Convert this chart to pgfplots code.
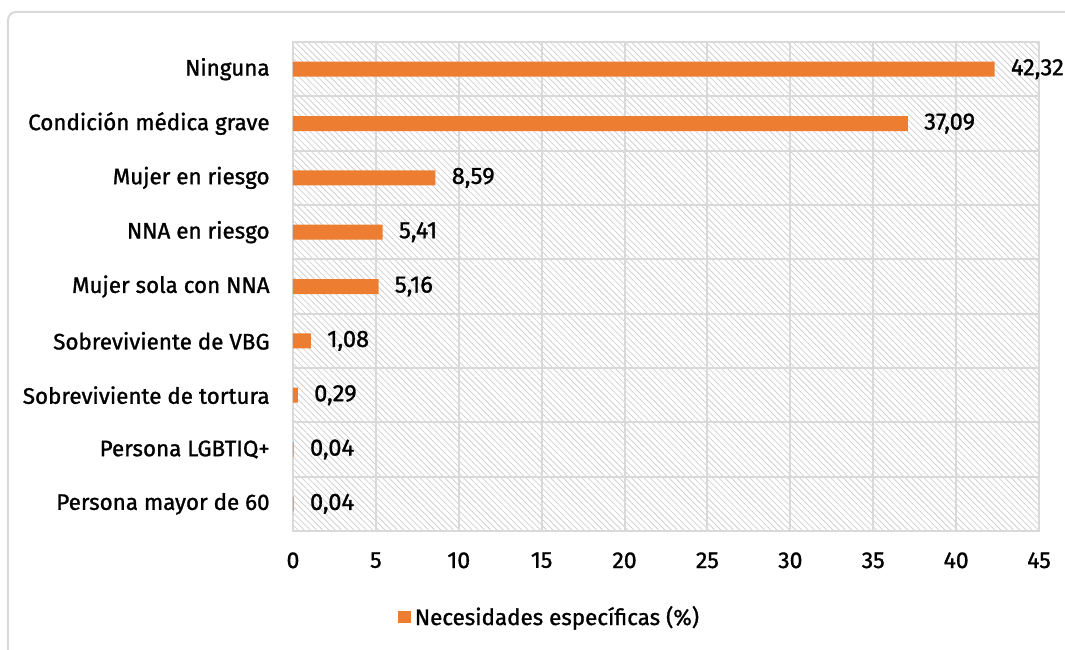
\documentclass[border=0pt]{standalone}
\usepackage{fontspec}
\setmainfont{Fira Sans}[FakeBold=1.2]
\usepackage{pgfplots}
\pgfplotsset{compat=1.18}
\usetikzlibrary{patterns.meta}
\definecolor{barorange}{HTML}{ED7D31}
\definecolor{gridgray}{HTML}{D9D9D9}

\begin{document}
\begin{tikzpicture}
\useasboundingbox (-146.5pt,-59pt) rectangle (386pt,265.5pt);
\begin{scope}
\clip (-146.5pt,-59pt) rectangle (386pt,265.5pt);
\draw[gridgray, line width=1pt, rounded corners=4pt] (-142.5pt,-90pt) rectangle (420pt,259.5pt);
\end{scope}
\begin{axis}[
    at={(0,0)}, anchor=south west,
    scale only axis,
    width=373pt, height=244.5pt,
    xbar,
    bar width=7.5pt,
    xmin=0, xmax=45,
    xtick={0,5,...,45},
    ymin=-0.5, ymax=8.5,
    y dir=reverse,
    ytick={0,...,8},
    yticklabels={Ninguna, Condición médica grave, Mujer en riesgo, NNA en riesgo, Mujer sola con NNA, Sobreviviente de VBG, Sobreviviente de tortura, Persona LGBTIQ+, Persona mayor de 60},
    minor ytick={-0.5,0.5,...,8.5},
    xmajorgrids=true, yminorgrids=true,
    grid style={gridgray, line width=1pt},
    axis line style={gridgray, line width=1pt},
    major tick length=0pt,
    minor tick length=3pt,
    tick align=outside,
    minor tick style={gridgray, line width=1pt},
    xtick style={draw=none},
    ytick style={draw=none},
    yticklabel style={inner sep=0pt, xshift=-11.5pt, font=\fontsize{11.2}{13}\selectfont},
    xticklabel style={inner sep=0pt, yshift=-10.5pt, font=\fontsize{11.5}{13}\selectfont},
    /pgf/number format/assume math mode=true,
    axis background/.style={pattern={Lines[angle=-45, distance=2.2pt, line width=0.4pt]}, pattern color=black!18},
    nodes near coords={\pgfmathprintnumber[use comma, fixed, fixed zerofill, precision=2]{\pgfplotspointmeta}},
    nodes near coords style={anchor=west, inner sep=0pt, xshift=8pt, font=\fontsize{11.8}{13}\selectfont},
    legend style={draw=none, fill=none, at={(0.14,-0.176)}, anchor=west, font=\fontsize{11.2}{13}\selectfont, inner sep=0pt},
    legend image code/.code={\fill[barorange] (0pt,-3pt) rectangle (6.5pt,3pt);},
]
\addplot[fill=barorange, draw=none] coordinates {
(42.32,0) (37.09,1) (8.59,2) (5.41,3) (5.16,4) (1.08,5) (0.29,6) (0.04,7) (0.04,8)};
\addlegendentry{Necesidades específicas (\%)}
\end{axis}
\end{tikzpicture}
\end{document}
